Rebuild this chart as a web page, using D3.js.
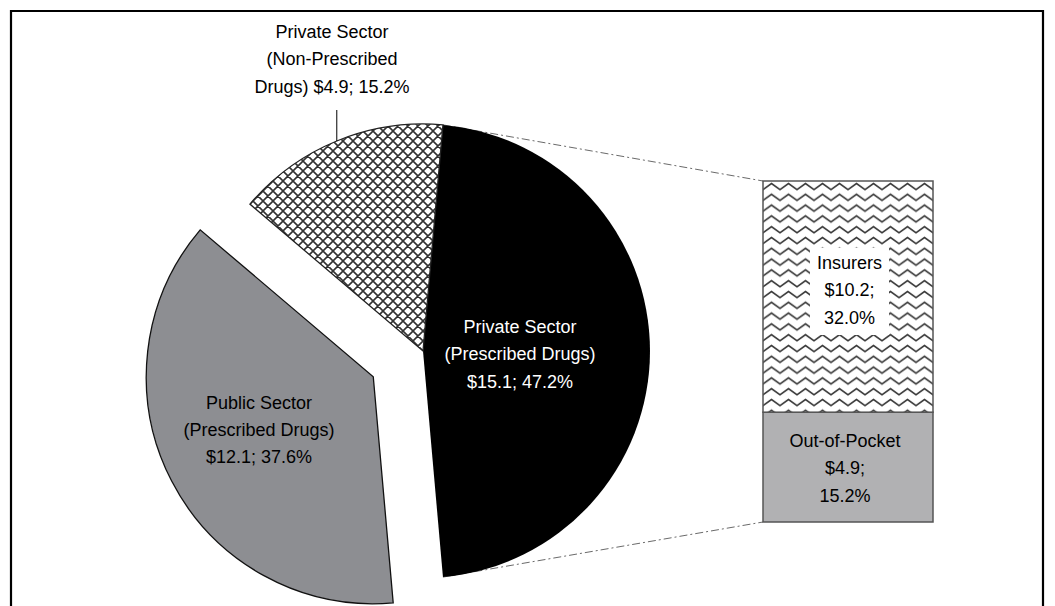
<!DOCTYPE html>
<html>
<head>
<meta charset="utf-8">
<script src="https://cdn.jsdelivr.net/npm/d3@7"></script>
<style>
	body { margin: 0; background: #fff; }
	svg { display: block; }
	text { font-family: "Liberation Sans", Arial, sans-serif; font-size: 18px; }
</style>
</head>
<body>
<svg class="theSvg" width="1055" height="606"></svg>
<script>
// pie slices (billions of dollars, share of total)
var sliceNames = ["Private Sector (Prescribed Drugs)", "Public Sector (Prescribed Drugs)", "Private Sector (Non-Prescribed Drugs)"];
var sliceDollars = [15.1, 12.1, 4.9];
var slicePercents = [47.2, 37.6, 15.2];

// bar of the private prescribed slice, bottom to top
var barNames = ["Out-of-Pocket", "Insurers"];
var barDollars = [4.9, 10.2];
var barPercents = [15.2, 32.0];

var svg = d3.select(".theSvg");
var defs = svg.append("defs");

// crosshatch fill
var cross = defs.append("pattern")
	.attr("id", "cross")
	.attr("patternUnits", "userSpaceOnUse")
	.attr("width", 10).attr("height", 10);
cross.append("rect").attr("width", 10).attr("height", 10).attr("fill", "#fff");
cross.append("path")
	.attr("d", "M0,0 L10,10 M10,0 L0,10 M-1,9 L1,11 M9,-1 L11,1 M-1,1 L1,-1 M9,11 L11,9")
	.attr("stroke", "#333")
	.attr("stroke-width", 1.6)
	.attr("fill", "none");

// zigzag fill
var wave = defs.append("pattern")
	.attr("id", "wave")
	.attr("patternUnits", "userSpaceOnUse")
	.attr("x", 763).attr("y", 181)
	.attr("width", 17).attr("height", 10.8);
wave.append("rect").attr("width", 17).attr("height", 10.8).attr("fill", "#fff");
wave.append("path")
	.attr("d", "M-4.25,5.25 L0,8.5 L8.5,2.5 L17,8.5 L21.25,5.25")
	.attr("stroke", "#383838")
	.attr("stroke-width", 1.6)
	.attr("fill", "none");

// frame
svg.append("path")
	.attr("d", "M11,620 L11,11 L1043,11 L1043,620")
	.attr("fill", "none")
	.attr("stroke", "#000")
	.attr("stroke-width", 2.2);

var cx = 423, cy = 351, radius = 227;
var fills = ["#000", "#8d8e92", "url(#cross)"];
var strokes = ["none", "#111", "#222"];
var explode = [0, 56, 0];

var first = slicePercents[0] / 100 * Math.PI * 2;
var pie = d3.pie().sort(null)
	.startAngle(Math.PI / 2 - first / 2)
	.endAngle(Math.PI / 2 - first / 2 + Math.PI * 2);
var arcs = pie(slicePercents);
var arc = d3.arc().innerRadius(0).outerRadius(radius);

function polar(a, r){ return [cx + r * Math.sin(a), cy - r * Math.cos(a)]; }

// bar scale
var barX = 763, barW = 170;
var barTotal = d3.sum(barPercents);
var y = d3.scaleLinear().domain([0, barTotal]).range([522, 181]);
var stack = [];
var acc = 0;
barPercents.forEach(function(p, i){ stack.push({name: barNames[i], dollars: barDollars[i], pct: p, y0: acc, y1: acc + p}); acc += p; });

// dash-dot connector lines, under the pie
var topPt = polar(arcs[0].startAngle, radius);
var botPt = polar(arcs[0].endAngle, radius);
svg.append("g").selectAll("line")
	.data([[topPt, [barX, y(barTotal)]], [botPt, [barX, y(0)]]])
	.enter().append("line")
	.attr("x1", function(d){ return d[0][0]; })
	.attr("y1", function(d){ return d[0][1]; })
	.attr("x2", function(d){ return d[1][0]; })
	.attr("y2", function(d){ return d[1][1]; })
	.attr("stroke", "#6a6a6a")
	.attr("stroke-width", 1)
	.attr("stroke-dasharray", "8,3,2,3");

var slices = svg.append("g")
	.attr("transform", "translate(" + cx + "," + cy + ")");

slices.selectAll("path")
	.data(arcs)
	.enter().append("path")
	.attr("d", arc)
	.attr("transform", function(d, i){
		var mid = (d.startAngle + d.endAngle) / 2;
		return "translate(" + (explode[i] * Math.sin(mid)) + "," + (-explode[i] * Math.cos(mid)) + ")";
	})
	.attr("fill", function(d, i){ return fills[i]; })
	.attr("stroke", function(d, i){ return strokes[i]; })
	.attr("stroke-width", 1.3)
	.attr("stroke-linejoin", "miter");

// leader for the small slice
var midSmall = (arcs[2].startAngle + arcs[2].endAngle) / 2;
var lp = polar(midSmall, radius);
svg.append("line")
	.attr("x1", lp[0]).attr("x2", lp[0])
	.attr("y1", lp[1]).attr("y2", 110)
	.attr("stroke", "#000")
	.attr("stroke-width", 1);

// bar segments
svg.append("g").selectAll("rect")
	.data(stack)
	.enter().append("rect")
	.attr("x", barX)
	.attr("width", barW)
	.attr("y", function(d){ return y(d.y1); })
	.attr("height", function(d){ return y(d.y0) - y(d.y1); })
	.attr("fill", function(d, i){ return i == 0 ? "#b1b1b3" : "url(#wave)"; })
	.attr("stroke", "#555")
	.attr("stroke-width", 1.5);

// labels
function fmt(v){ return "$" + v.toFixed(1); }
function pc(v){ return v.toFixed(1) + "%"; }

var sliceLines = [
	["Private Sector", "(Prescribed Drugs)", fmt(sliceDollars[0]) + "; " + pc(slicePercents[0])],
	["Public Sector", "(Prescribed Drugs)", fmt(sliceDollars[1]) + "; " + pc(slicePercents[1])],
	["Private Sector", "(Non-Prescribed", "Drugs) " + fmt(sliceDollars[2]) + "; " + pc(slicePercents[2])]
];
var slicePos = [[520, 333, "#fff"], [259, 408.5, "#000"], [332, 38, "#000"]];

var barLines = [
	[stack[0].name, fmt(stack[0].dollars) + ";", pc(stack[0].pct)],
	[stack[1].name, fmt(stack[1].dollars) + ";", pc(stack[1].pct)]
];
var barPos = [[845, 447], [849.5, 269]];

// white box behind the insurers label
svg.append("rect")
	.attr("x", 810).attr("y", 248)
	.attr("width", 79).attr("height", 87)
	.attr("fill", "#fff");

function addLabel(lines, x, yb, col){
	var t = svg.append("text")
		.attr("text-anchor", "middle")
		.attr("fill", col);
	lines.forEach(function(s, i){
		t.append("tspan").attr("x", x).attr("y", yb + i * 27.3).text(s);
	});
}

sliceLines.forEach(function(l, i){ addLabel(l, slicePos[i][0], slicePos[i][1], slicePos[i][2]); });
barLines.forEach(function(l, i){ addLabel(l, barPos[i][0], barPos[i][1], "#000"); });
</script>
</body>
</html>
